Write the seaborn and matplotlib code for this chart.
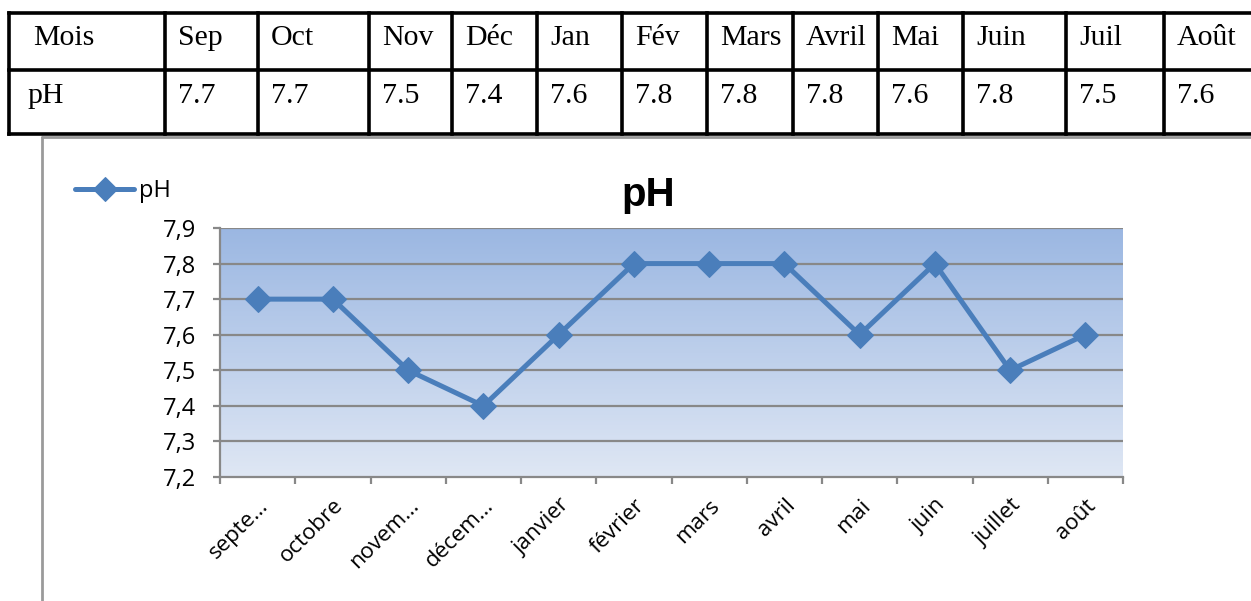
import numpy as np
import pandas as pd
import matplotlib
matplotlib.use("Agg")
import matplotlib.pyplot as plt
from matplotlib.colors import LinearSegmentedColormap
import seaborn as sns

# ---- data ----
table_months = ["Sep", "Oct", "Nov", "Déc", "Jan", "Fév", "Mars", "Avril", "Mai", "Juin", "Juil", "Août"]
table_values = ["7.7", "7.7", "7.5", "7.4", "7.6", "7.8", "7.8", "7.8", "7.6", "7.8", "7.5", "7.6"]
categories = ["septe…", "octobre", "novem…", "décem…", "janvier", "février",
              "mars", "avril", "mai", "juin", "juillet", "août"]
ph_values = [7.7, 7.7, 7.5, 7.4, 7.6, 7.8, 7.8, 7.8, 7.6, 7.8, 7.5, 7.6]
y_ticks = [7.2, 7.3, 7.4, 7.5, 7.6, 7.7, 7.8, 7.9]
series_name = "pH"
title = "pH"

sns.set_theme(style="white")
plt.rcParams["font.family"] = ["Open Sans", "DejaVu Sans"]
plt.rcParams["text.color"] = "black"

W, H = 1251, 601
fig = plt.figure(figsize=(W / 100, H / 100), dpi=100)

# ---- overlay axes in pixel coordinates for table and frame ----
ov = fig.add_axes([0, 0, 1, 1])
ov.set_xlim(0, W)
ov.set_ylim(H, 0)
ov.axis("off")

col_edges = [9, 165, 258, 369, 452, 537, 622, 707, 793, 878, 963, 1066, 1164, 1262]
row_top, row_mid, row_bot = 13, 70, 134
lw_t = 2.6
for x in col_edges:
    ov.plot([x, x], [row_top, row_bot], color="black", lw=lw_t, solid_capstyle="projecting")
for y in (row_top, row_mid, row_bot):
    ov.plot([col_edges[0], W + 5], [y, y], color="black", lw=lw_t, solid_capstyle="projecting")

serif = ["Liberation Serif", "DejaVu Serif"]
fs_table = 21.5
ov.text(33, 45, "Mois", family=serif, fontsize=fs_table, va="baseline", ha="left", color="black")
ov.text(27, 103, "pH", family=serif, fontsize=fs_table, va="baseline", ha="left", color="black")
for i, (m, v) in enumerate(zip(table_months, table_values)):
    x0 = col_edges[i + 1] + 13
    ov.text(x0, 45, m, family=serif, fontsize=fs_table, va="baseline", ha="left", color="black")
    ov.text(x0, 103, v, family=serif, fontsize=fs_table, va="baseline", ha="left", color="black")

# chart frame (gray)
ov.plot([42, 42], [137, H + 2], color="#9a9a9a", lw=2)
ov.plot([42, W + 5], [137, 137], color="#9a9a9a", lw=2)

# ---- main chart axes ----
px0, px1, py0, py1 = 220, 1123, 228, 477
ax = fig.add_axes([px0 / W, (H - py1) / H, (px1 - px0) / W, (py1 - py0) / H])

df = pd.DataFrame({"Mois": categories, "pH": ph_values})
line_color = "#4A7EBB"

ax.set_xlim(-0.5, len(categories) - 0.5)
ax.set_ylim(y_ticks[0], y_ticks[-1])

# gradient background
cmap = LinearSegmentedColormap.from_list("bg", ["#DFE7F4", "#9BB7E2"])
grad = np.linspace(0, 1, 256).reshape(-1, 1)
ax.imshow(grad, aspect="auto", cmap=cmap, origin="lower",
          extent=[-0.5, len(categories) - 0.5, y_ticks[0], y_ticks[-1]], zorder=0)

for yv in y_ticks[1:]:
    ax.axhline(yv, color="#888888", lw=1.6, zorder=1)

sns.lineplot(data=df, x="Mois", y="pH", ax=ax, color=line_color, lw=3.6,
             marker="D", markersize=13, markeredgecolor=line_color,
             markerfacecolor=line_color, sort=False, zorder=3, label=series_name)

ax.set_xlim(-0.5, len(categories) - 0.5)
ax.set_ylim(y_ticks[0], y_ticks[-1])

for s in ("top", "right"):
    ax.spines[s].set_visible(False)
for s in ("left", "bottom"):
    ax.spines[s].set_color("#888888")
    ax.spines[s].set_linewidth(1.6)
    ax.spines[s].set_zorder(2)

ax.set_yticks(y_ticks)
ax.set_yticklabels([f"{v:.1f}".replace(".", ",") for v in y_ticks], fontsize=17)
ax.tick_params(axis="y", direction="out", length=5, width=1.6, color="#888888", pad=12,
               left=True, labelcolor="black")

ax.set_xticks(range(len(categories)))
ax.set_xticklabels(categories, rotation=45, ha="right", rotation_mode="anchor", fontsize=16)
ax.set_xticks(np.arange(-0.5, len(categories), 1.0), minor=True)
ax.tick_params(axis="x", which="major", length=0, pad=13, labelcolor="black")
ax.tick_params(axis="x", which="minor", direction="out", length=5, width=1.6,
               color="#888888", bottom=True)

ax.set_xlabel("")
ax.set_ylabel("")

leg = ax.legend(loc="upper left", bbox_to_anchor=(75 / W, 1 - 179 / H),
                bbox_transform=fig.transFigure, frameon=False, fontsize=17,
                handlelength=2.5, handletextpad=0.2, borderaxespad=0, borderpad=0,
                markerscale=0.95)
for t in leg.get_texts():
    t.set_color("black")

fig.text(648 / W, 1 - 195 / H, title, fontsize=29, fontweight="bold",
         ha="center", va="center", family=["Liberation Sans", "DejaVu Sans"], color="black")

fig.savefig("out.png", dpi=100)
